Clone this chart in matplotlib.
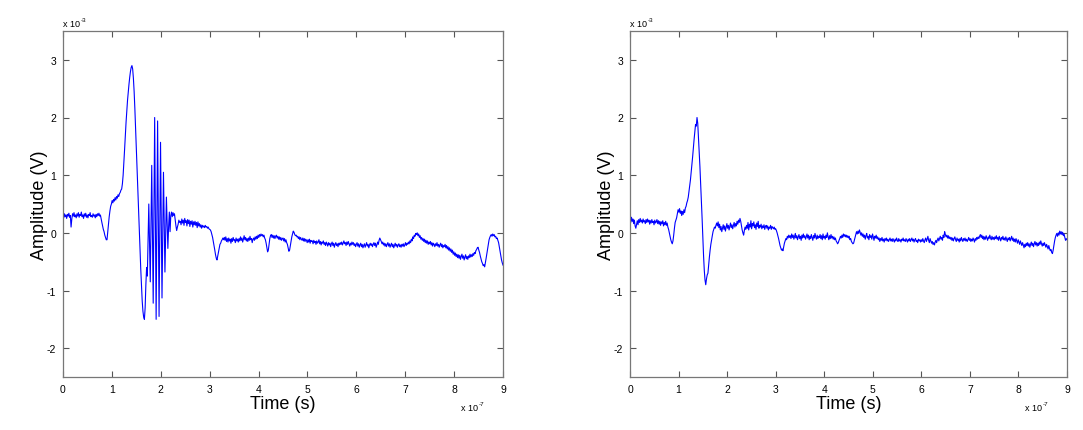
import matplotlib
matplotlib.use("Agg")
import matplotlib.pyplot as plt
import numpy as np

# time axis in units of 1e-7 s, amplitudes in units of 1e-3 V
t_step = 0.015
t = np.arange(0, 601) * t_step

left_amp = [
    0.30, 0.26, 0.33, 0.28, 0.31, 0.25, 0.32, 0.29, 0.34, 0.27, 0.30, 0.10, 0.24, 0.33, 0.29, 0.35, 0.28, 0.31, 0.26, 0.33,
    0.29, 0.35, 0.27, 0.32, 0.30, 0.36, 0.28, 0.31, 0.25, 0.33, 0.29, 0.34, 0.27, 0.31, 0.26, 0.32, 0.30, 0.35, 0.28, 0.30,
    0.27, 0.33, 0.29, 0.31, 0.26, 0.32, 0.28, 0.33, 0.30, 0.34, 0.29, 0.31, 0.24, 0.18, 0.12, 0.06, 0.02, -0.04, -0.08, -0.12,
    -0.12, 0.02, 0.15, 0.28, 0.38, 0.46, 0.50, 0.56, 0.52, 0.58, 0.55, 0.61, 0.57, 0.63, 0.60, 0.66, 0.63, 0.68, 0.70, 0.74,
    0.76, 0.85, 1.00, 1.22, 1.45, 1.70, 1.92, 2.12, 2.30, 2.45, 2.58, 2.70, 2.80, 2.87, 2.90, 2.84, 2.68, 2.45, 2.15, 1.80,
    1.45, 1.12, 0.75, 0.40, 0.05, -0.30, -0.62, -0.92, -1.18, -1.36, -1.46, -1.50, -1.30, -0.90, -0.60, -0.75, -0.10, 0.50, -0.20, -0.85,
    0.15, 1.17, 0.00, -1.22, 0.40, 2.00, 0.25, -1.50, 0.22, 1.94, 0.25, -1.45, 0.05, 1.57, 0.20, -1.13, -0.05, 1.05, 0.20, -0.68,
    -0.05, 0.62, 0.15, -0.27, 0.10, 0.36, 0.02, 0.30, 0.36, 0.28, 0.35, 0.30, 0.33, 0.22, 0.12, 0.04, 0.10, 0.15, 0.22, 0.18,
    0.20, 0.14, 0.24, 0.17, 0.22, 0.13, 0.25, 0.18, 0.21, 0.12, 0.23, 0.16, 0.22, 0.11, 0.20, 0.15, 0.21, 0.10, 0.19, 0.14,
    0.20, 0.13, 0.18, 0.09, 0.19, 0.12, 0.16, 0.10, 0.14, 0.08, 0.13, 0.10, 0.12, 0.09, 0.13, 0.10, 0.11, 0.08, 0.10, 0.07,
    0.06, 0.05, 0.02, -0.03, -0.08, -0.15, -0.22, -0.30, -0.38, -0.44, -0.47, -0.40, -0.32, -0.26, -0.20, -0.18, -0.14, -0.12, -0.09, -0.12,
    -0.08, -0.13, -0.07, -0.15, -0.10, -0.16, -0.09, -0.14, -0.11, -0.18, -0.10, -0.15, -0.08, -0.13, -0.12, -0.17, -0.09, -0.14, -0.11, -0.16,
    -0.10, -0.14, -0.07, -0.13, -0.09, -0.16, -0.11, -0.05, -0.12, -0.08, -0.14, -0.10, -0.15, -0.09, -0.13, -0.06, -0.12, -0.10, -0.17, -0.11,
    -0.09, -0.13, -0.07, -0.11, -0.06, -0.10, -0.04, -0.08, -0.03, -0.06, -0.02, -0.05, -0.03, -0.07, -0.04, -0.09, -0.12, -0.18, -0.25, -0.33,
    -0.30, -0.20, -0.10, -0.05, -0.03, -0.08, -0.04, -0.09, -0.05, -0.10, -0.06, -0.04, -0.09, -0.06, -0.11, -0.07, -0.12, -0.08, -0.13, -0.10,
    -0.09, -0.14, -0.10, -0.16, -0.12, -0.17, -0.20, -0.26, -0.32, -0.30, -0.22, -0.14, -0.07, -0.02, 0.03, 0.01, -0.03, -0.05, -0.04, -0.07,
    -0.06, -0.10, -0.07, -0.12, -0.08, -0.11, -0.13, -0.09, -0.14, -0.10, -0.15, -0.11, -0.13, -0.17, -0.12, -0.16, -0.11, -0.18, -0.13, -0.15,
    -0.14, -0.19, -0.13, -0.17, -0.15, -0.20, -0.14, -0.18, -0.16, -0.12, -0.19, -0.15, -0.21, -0.16, -0.18, -0.14, -0.20, -0.17, -0.22, -0.16,
    -0.19, -0.23, -0.17, -0.21, -0.18, -0.24, -0.19, -0.16, -0.22, -0.18, -0.25, -0.20, -0.17, -0.22, -0.19, -0.24, -0.18, -0.21, -0.17, -0.20,
    -0.16, -0.21, -0.18, -0.14, -0.19, -0.17, -0.22, -0.16, -0.20, -0.15, -0.19, -0.23, -0.18, -0.21, -0.16, -0.20, -0.17, -0.22, -0.19, -0.24,
    -0.20, -0.17, -0.23, -0.19, -0.25, -0.21, -0.18, -0.24, -0.20, -0.26, -0.22, -0.19, -0.25, -0.21, -0.17, -0.23, -0.20, -0.26, -0.21, -0.18,
    -0.22, -0.19, -0.24, -0.20, -0.17, -0.22, -0.18, -0.25, -0.21, -0.16, -0.20, -0.13, -0.09, -0.12, -0.15, -0.19, -0.16, -0.21, -0.18, -0.23,
    -0.19, -0.24, -0.20, -0.17, -0.23, -0.19, -0.25, -0.21, -0.18, -0.24, -0.20, -0.26, -0.22, -0.18, -0.23, -0.20, -0.25, -0.21, -0.19, -0.24,
    -0.21, -0.25, -0.20, -0.23, -0.19, -0.24, -0.21, -0.17, -0.22, -0.18, -0.20, -0.16, -0.19, -0.14, -0.17, -0.11, -0.14, -0.07, -0.10, -0.04,
    -0.06, -0.01, -0.03, 0.00, -0.05, -0.02, -0.08, -0.05, -0.11, -0.08, -0.13, -0.10, -0.15, -0.11, -0.17, -0.13, -0.18, -0.14, -0.20, -0.16,
    -0.19, -0.15, -0.21, -0.17, -0.23, -0.18, -0.20, -0.24, -0.19, -0.22, -0.17, -0.23, -0.20, -0.25, -0.21, -0.18, -0.24, -0.20, -0.26, -0.22,
    -0.24, -0.20, -0.26, -0.22, -0.28, -0.24, -0.30, -0.26, -0.32, -0.28, -0.34, -0.30, -0.37, -0.33, -0.39, -0.35, -0.41, -0.37, -0.43, -0.38,
    -0.44, -0.39, -0.46, -0.41, -0.37, -0.44, -0.40, -0.47, -0.42, -0.38, -0.45, -0.41, -0.46, -0.40, -0.43, -0.37, -0.42, -0.38, -0.41, -0.36,
    -0.39, -0.34, -0.36, -0.31, -0.29, -0.26, -0.25, -0.30, -0.34, -0.40, -0.45, -0.50, -0.53, -0.57, -0.55, -0.59, -0.52, -0.44, -0.36, -0.27,
    -0.19, -0.12, -0.08, -0.05, -0.03, -0.06, -0.02, -0.05, -0.03, -0.07, -0.06, -0.10, -0.09, -0.13, -0.17, -0.24, -0.32, -0.40, -0.47, -0.52,
    -0.56,
]

right_amp = [
    0.25, 0.18, 0.27, 0.20, 0.24, 0.16, 0.22, 0.12, 0.08, 0.15, 0.21, 0.14, 0.23, 0.18, 0.25, 0.19, 0.22, 0.17, 0.24, 0.19,
    0.21, 0.16, 0.23, 0.18, 0.24, 0.19, 0.22, 0.15, 0.21, 0.17, 0.23, 0.18, 0.20, 0.14, 0.22, 0.17, 0.19, 0.23, 0.16, 0.21,
    0.15, 0.20, 0.13, 0.19, 0.16, 0.21, 0.12, 0.18, 0.14, 0.20, 0.13, 0.17, 0.10, 0.06, 0.00, -0.06, -0.12, -0.16, -0.19, -0.14,
    -0.04, 0.08, 0.18, 0.22, 0.26, 0.33, 0.40, 0.36, 0.42, 0.34, 0.38, 0.30, 0.37, 0.32, 0.40, 0.35, 0.43, 0.46, 0.52, 0.56,
    0.62, 0.72, 0.82, 0.92, 1.05, 1.18, 1.32, 1.48, 1.62, 1.76, 1.88, 1.85, 2.00, 1.90, 1.65, 1.40, 1.15, 0.85, 0.55, 0.25,
    -0.10, -0.40, -0.65, -0.82, -0.90, -0.80, -0.73, -0.70, -0.55, -0.42, -0.30, -0.20, -0.12, -0.05, 0.02, 0.06, 0.10, 0.08, 0.13, 0.17,
    0.12, 0.19, 0.09, 0.15, 0.05, 0.11, 0.02, 0.08, 0.14, 0.06, 0.12, 0.03, 0.10, 0.16, 0.08, 0.13, 0.05, 0.11, 0.17, 0.09,
    0.14, 0.07, 0.13, 0.18, 0.10, 0.16, 0.12, 0.20, 0.15, 0.22, 0.18, 0.25, 0.20, 0.12, 0.05, 0.00, -0.04, 0.04, 0.10, 0.06,
    0.13, 0.08, 0.18, 0.05, 0.15, 0.10, 0.21, 0.07, 0.16, 0.12, 0.19, 0.09, 0.14, 0.06, 0.17, 0.11, 0.20, 0.08, 0.13, 0.10,
    0.15, 0.07, 0.12, 0.09, 0.14, 0.06, 0.11, 0.13, 0.08, 0.12, 0.05, 0.10, 0.08, 0.13, 0.06, 0.11, 0.09, 0.07, 0.10, 0.06,
    0.07, 0.04, 0.00, -0.05, -0.10, -0.16, -0.22, -0.26, -0.30, -0.28, -0.31, -0.24, -0.18, -0.14, -0.10, -0.12, -0.06, -0.09, -0.04, -0.08,
    -0.05, -0.10, -0.02, -0.08, -0.04, -0.11, -0.06, -0.01, -0.09, -0.05, -0.12, -0.07, -0.03, -0.10, -0.06, -0.13, -0.04, -0.09, -0.02, -0.08,
    -0.05, -0.11, -0.07, -0.02, -0.09, -0.04, -0.12, -0.06, -0.10, -0.03, -0.08, -0.13, -0.05, -0.09, -0.01, -0.07, -0.11, -0.04, -0.10, -0.06,
    -0.08, -0.03, -0.10, -0.05, -0.12, -0.02, -0.09, -0.06, -0.11, -0.04, -0.08, 0.00, -0.07, -0.12, -0.05, -0.10, -0.03, -0.09, -0.06, -0.11,
    -0.07, -0.12, -0.09, -0.14, -0.16, -0.19, -0.17, -0.13, -0.10, -0.06, -0.09, -0.04, -0.08, -0.02, -0.06, -0.03, -0.07, -0.04, -0.08, -0.05,
    -0.09, -0.06, -0.12, -0.10, -0.15, -0.17, -0.19, -0.18, -0.13, -0.08, -0.03, 0.02, -0.02, 0.03, -0.01, 0.05, 0.01, -0.04, 0.00, -0.06,
    -0.02, -0.08, -0.04, -0.11, -0.05, -0.01, -0.09, -0.06, -0.12, -0.03, -0.08, -0.05, -0.11, -0.02, -0.07, -0.13, -0.06, -0.09, -0.04, -0.10,
    -0.07, -0.12, -0.09, -0.15, -0.10, -0.13, -0.08, -0.14, -0.11, -0.16, -0.10, -0.13, -0.09, -0.14, -0.11, -0.15, -0.12, -0.09, -0.14, -0.11,
    -0.15, -0.10, -0.13, -0.16, -0.11, -0.14, -0.09, -0.13, -0.15, -0.10, -0.14, -0.12, -0.16, -0.11, -0.13, -0.09, -0.14, -0.12, -0.15, -0.10,
    -0.13, -0.16, -0.11, -0.14, -0.10, -0.15, -0.12, -0.09, -0.14, -0.11, -0.16, -0.12, -0.10, -0.15, -0.13, -0.17, -0.11, -0.14, -0.12, -0.16,
    -0.12, -0.15, -0.10, -0.14, -0.17, -0.12, -0.09, -0.15, -0.11, -0.06, -0.13, -0.17, -0.10, -0.14, -0.18, -0.15, -0.20, -0.17, -0.21, -0.16,
    -0.13, -0.17, -0.12, -0.09, -0.14, -0.10, -0.06, -0.11, -0.08, -0.13, -0.04, -0.08, 0.02, -0.03, -0.07, -0.04, -0.09, -0.05, -0.10, -0.07,
    -0.11, -0.08, -0.13, -0.09, -0.14, -0.10, -0.07, -0.12, -0.15, -0.09, -0.13, -0.11, -0.16, -0.10, -0.14, -0.08, -0.12, -0.15, -0.10, -0.13,
    -0.09, -0.14, -0.11, -0.15, -0.12, -0.08, -0.13, -0.10, -0.15, -0.11, -0.14, -0.09, -0.12, -0.16, -0.10, -0.13, -0.08, -0.11, -0.07, -0.10,
    -0.06, -0.03, -0.08, -0.04, -0.10, -0.06, -0.12, -0.07, -0.11, -0.05, -0.09, -0.13, -0.07, -0.10, -0.04, -0.09, -0.12, -0.06, -0.11, -0.08,
    -0.12, -0.07, -0.10, -0.05, -0.11, -0.08, -0.13, -0.06, -0.10, -0.14, -0.08, -0.11, -0.06, -0.12, -0.09, -0.13, -0.07, -0.11, -0.15, -0.09,
    -0.12, -0.08, -0.14, -0.10, -0.06, -0.13, -0.09, -0.15, -0.11, -0.16, -0.10, -0.14, -0.18, -0.12, -0.16, -0.20, -0.14, -0.18, -0.22, -0.17,
    -0.21, -0.26, -0.20, -0.24, -0.18, -0.22, -0.17, -0.23, -0.19, -0.25, -0.20, -0.16, -0.22, -0.18, -0.24, -0.19, -0.15, -0.21, -0.17, -0.23,
    -0.18, -0.22, -0.16, -0.20, -0.14, -0.19, -0.23, -0.18, -0.22, -0.17, -0.21, -0.25, -0.20, -0.24, -0.28, -0.22, -0.27, -0.31, -0.29, -0.34,
    -0.36, -0.30, -0.22, -0.14, -0.08, -0.04, -0.01, -0.06, 0.00, -0.04, 0.03, -0.02, 0.02, -0.03, 0.01, -0.05, -0.02, -0.08, -0.13, -0.10,
    -0.12,
]

x_ticks = list(range(0, 10))
y_ticks = [-2, -1, 0, 1, 2, 3]

plt.rcParams['font.family'] = ['Liberation Sans', 'DejaVu Sans']
plt.rcParams['axes.unicode_minus'] = False

fig = plt.figure(figsize=(10.83, 4.31), dpi=100)
ax1 = fig.add_axes([63 / 1083, 53 / 431, 440 / 1083, 346 / 431])
ax2 = fig.add_axes([630 / 1083, 53 / 431, 437 / 1083, 346 / 431])

for ax, amp in [(ax1, left_amp), (ax2, right_amp)]:
    ax.plot(t, amp, color="#0000ff", lw=0.8)
    ax.set_xlim(0, 9)
    ax.set_ylim(-2.5, 3.5)
    ax.set_xticks(x_ticks)
    ax.set_yticks(y_ticks)
    ax.tick_params(direction="in", top=True, right=True, length=4, width=0.8,
                   labelsize=7.5, colors="#555555", labelcolor="black", pad=5)
    for sp in ax.spines.values():
        sp.set_color("#777777")
        sp.set_linewidth(0.9)
    ax.set_xlabel("Time (s)", fontsize=13, labelpad=1)
    ax.set_ylabel("Amplitude (V)", fontsize=13, labelpad=-1)
    # MATLAB-style exponent labels, hyphen as minus
    ax.text(0, 1.01, "x 10", transform=ax.transAxes, fontsize=6.5,
            ha="left", va="bottom")
    ax.text(0.040, 1.025, "-3", transform=ax.transAxes, fontsize=4.5,
            ha="left", va="bottom")
    ax.text(0.905, -0.075, "x 10", transform=ax.transAxes, fontsize=6.5,
            ha="left", va="top")
    ax.text(0.945, -0.068, "-7", transform=ax.transAxes, fontsize=4.5,
            ha="left", va="top")

fig.savefig("out.png", dpi=100)
